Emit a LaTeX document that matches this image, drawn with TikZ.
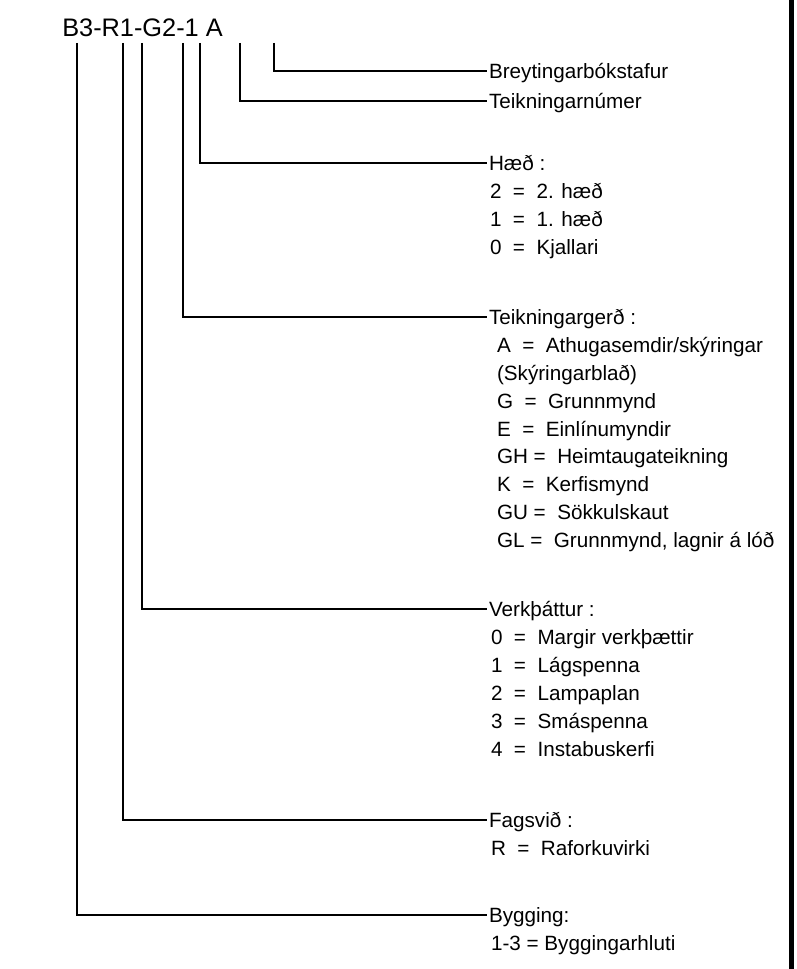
\documentclass[tikz,border=0pt]{standalone}
\usepackage{fontspec}
\setmainfont{Liberation Sans}
\begin{document}
\begin{tikzpicture}[x=0.75pt,y=-0.75pt,
		leid/.style={line width=0.8pt},
		tekst/.style={anchor=west,inner xsep=1.5pt,inner ysep=0pt,outer sep=0pt,text height=11.1pt,text depth=0pt,font=\fontsize{15.5}{18}\selectfont}]
		\useasboundingbox (0,0) rectangle (796,969);
		\draw[line width=3.5pt] (791.5,0) -- (791.5,969);

		\node[anchor=base west,inner sep=0pt,font=\fontsize{19}{22}\selectfont] (kodi) at (62,37) {B3-R1-G2-1 A};

		\coordinate (bB) at (77,43);
		\coordinate (bR) at (123,43);
		\coordinate (bV) at (142,43);
		\coordinate (bG) at (183,43);
		\coordinate (bH) at (200,43);
		\coordinate (bN) at (240,43);
		\coordinate (bA) at (274,43);

		\node[tekst] (breyting) at (487,71) {Breytingarbókstafur};
		\node[tekst] (numer) at (487,101) {Teikningarnúmer};

		\node[tekst] (haed) at (487,163) {Hæð :};
		\node[tekst] (haed2) at (488,191) {2\ \ =\ \ 2. hæð};
		\node[tekst] (haed1) at (488,219) {1\ \ =\ \ 1. hæð};
		\node[tekst] (haed0) at (488,247) {0\ \ =\ \ Kjallari};

		\node[tekst] (gerd) at (487,317) {Teikningargerð :};
		\node[tekst] (gerdA) at (495,345) {A\ \ =\ \ Athugasemdir/skýringar};
		\node[tekst] (gerdS) at (495,373) {(Skýringarblað)};
		\node[tekst] (gerdG) at (495,401) {G\ \ =\ \ Grunnmynd};
		\node[tekst] (gerdE) at (495,429) {E\ \ =\ \ Einlínumyndir};
		\node[tekst] (gerdGH) at (495,456) {GH =\ \ Heimtaugateikning};
		\node[tekst] (gerdK) at (495,484) {K\ \ =\ \ Kerfismynd};
		\node[tekst] (gerdGU) at (495,512) {GU =\ \ Sökkulskaut};
		\node[tekst] (gerdGL) at (495,540) {GL =\ \ Grunnmynd, lagnir á lóð};

		\node[tekst] (verk) at (487,609) {Verkþáttur :};
		\node[tekst] (verk0) at (489,637) {0\ \ =\ \ Margir verkþættir};
		\node[tekst] (verk1) at (489,665) {1\ \ =\ \ Lágspenna};
		\node[tekst] (verk2) at (489,693) {2\ \ =\ \ Lampaplan};
		\node[tekst] (verk3) at (489,721) {3\ \ =\ \ Smáspenna};
		\node[tekst] (verk4) at (489,749) {4\ \ =\ \ Instabuskerfi};

		\node[tekst] (fag) at (487,820) {Fagsvið :};
		\node[tekst] (fagR) at (489,848) {R\ \ =\ \ Raforkuvirki};

		\node[tekst] (bygg) at (487,915) {Bygging:};
		\node[tekst] (bygg13) at (489,943) {1-3 = Byggingarhluti};

		\draw[leid] (bA) |- (breyting.west);
		\draw[leid] (bN) |- (numer.west);
		\draw[leid] (bH) |- (haed.west);
		\draw[leid] (bG) |- (gerd.west);
		\draw[leid] (bV) |- (verk.west);
		\draw[leid] (bR) |- (fag.west);
		\draw[leid] (bB) |- (bygg.west);
	\end{tikzpicture}
\end{document}
